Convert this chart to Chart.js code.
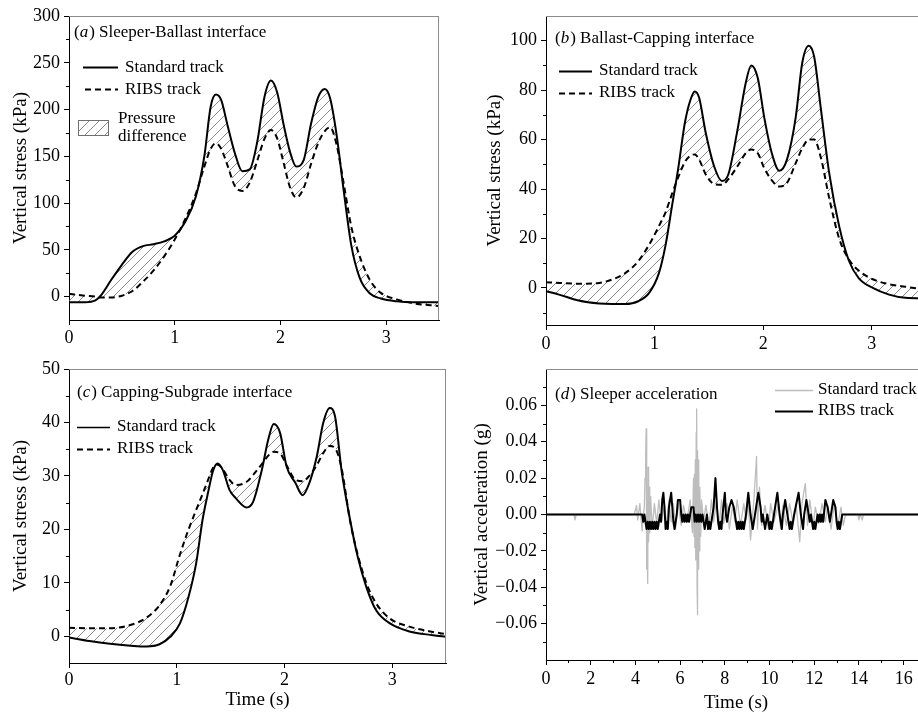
<!DOCTYPE html>
<html lang="en">
  <head>
    <meta charset="UTF-8" />
    <title>Vertical stress and sleeper acceleration</title>
    <script src="https://cdn.jsdelivr.net/npm/chart.js"></script>
    <style>
      html, body { margin: 0; padding: 0; background: #fff; overflow: hidden; }
      .page { position: relative; width: 918px; height: 718px; overflow: hidden; }
      .page canvas { position: absolute; }
    </style>
  </head>
  <body>
    <div class="page">
      <canvas id="chartA" width="459" height="345" style="left:0px;top:0px"></canvas>
      <canvas id="chartC" width="459" height="373" style="left:0px;top:345px"></canvas>
      <canvas id="chartD" width="467" height="373" style="left:459px;top:345px"></canvas>
      <!-- (b) last so its tick labels sit over the top edge of (d) -->
      <canvas id="chartB" width="467" height="365" style="left:459px;top:0px"></canvas>
    </div>

    <script>
      // (a) Sleeper-Ballast interface, kPa
      const timeA = [0, 0.15, 0.25, 0.3, 0.4, 0.5, 0.6, 0.7, 0.8, 0.9, 1.0, 1.1, 1.2, 1.28, 1.34, 1.39, 1.44, 1.5, 1.57, 1.64, 1.71, 1.78, 1.85, 1.91, 1.97, 2.03, 2.09, 2.15, 2.22, 2.29, 2.36, 2.42, 2.47, 2.53, 2.6, 2.67, 2.75, 2.85, 2.95, 3.1, 3.25, 3.5];
      const standardA = [-6, -6, -4, 1, 18, 34, 48, 54, 56, 59, 65, 80, 107, 150, 203, 216, 210, 183, 153, 134, 136, 165, 214, 231, 218, 184, 155, 139, 146, 185, 214, 222, 212, 174, 112, 55, 20, 3, -2, -5, -6, -6];
      const ribsA = [3, 1, 0, -1, -1, 1, 6, 16, 28, 43, 61, 83, 110, 139, 158, 164, 158, 140, 118, 113, 122, 145, 169, 178, 169, 143, 117, 106, 116, 142, 165, 177, 181, 163, 120, 75, 43, 17, 4, -3, -7, -10];

      // (b) Ballast-Capping interface, kPa
      const timeB = [0, 0.12, 0.3, 0.49, 0.61, 0.73, 0.85, 0.95, 1.04, 1.1, 1.16, 1.22, 1.28, 1.33, 1.37, 1.41, 1.47, 1.55, 1.62, 1.68, 1.76, 1.84, 1.89, 1.95, 2.01, 2.08, 2.15, 2.22, 2.3, 2.36, 2.42, 2.47, 2.53, 2.61, 2.7, 2.79, 2.88, 3.01, 3.16, 3.31, 3.5];
      const standardB = [-1.3, -2.7, -5.1, -6.3, -6.5, -6.5, -5.4, -2, 6, 17, 33, 49, 67, 76, 79.5, 77, 63, 49, 43.3, 46, 63, 83, 90, 85, 69, 54.5, 47.4, 52, 69, 91, 98, 93.5, 73, 46, 25, 11, 4, 0, -2.7, -4, -4.2];
      const ribsB = [2.3, 2.0, 1.7, 2, 3.4, 6, 10.8, 17.5, 25, 30.5, 38, 45, 51, 53.5, 54, 52, 46, 42, 41.7, 44, 49, 54.5, 56, 54.5, 48.5, 43.5, 41, 42.5, 50.5, 56.5, 60, 60, 53, 36, 20, 11.5, 7, 3.5, 1.5, 0.5, -0.8];

      // (c) Capping-Subgrade interface, kPa
      const timeC = [0, 0.19, 0.38, 0.6, 0.72, 0.84, 0.94, 1.03, 1.11, 1.18, 1.24, 1.29, 1.34, 1.38, 1.43, 1.49, 1.55, 1.65, 1.71, 1.79, 1.85, 1.9, 1.96, 2.02, 2.1, 2.17, 2.23, 2.3, 2.36, 2.42, 2.47, 2.53, 2.61, 2.68, 2.76, 2.85, 2.98, 3.16, 3.38, 3.5];
      const standardC = [-0.25, -0.9, -1.4, -1.8, -1.9, -1.5, -0.1, 2.4, 7.4, 13.6, 21.8, 26.8, 31.1, 32.3, 31, 27.4, 25.8, 24.1, 25.2, 31.1, 36.8, 39.7, 38, 31.75, 28.75, 26.4, 28.6, 33.6, 39.9, 42.7, 41.1, 31.1, 21.75, 14.9, 9.25, 4.9, 2.4, 0.9, 0.2, -0.1];
      const ribsC = [1.6, 1.5, 1.5, 2.3, 3.5, 5.8, 9.4, 15.3, 20, 23.6, 26.6, 29.2, 31.6, 32.1, 31.2, 29.25, 28.3, 28.9, 30.2, 32.2, 33.8, 34.5, 34.2, 32, 29.3, 29, 30, 32, 34.25, 35.6, 35.2, 31.5, 21.5, 15.3, 10, 6.2, 3.3, 1.8, 0.8, 0.4];

      // (d) Sleeper acceleration, g -- standard track (grey)
      const timeStdD = [
        0, 1.25, 1.3, 1.35, 3.95, 4.05, 4.1, 4.2, 4.3, 4.4,
        4.43, 4.46, 4.48, 4.5, 4.51, 4.53, 4.55, 4.57, 4.59, 4.61, 4.64, 4.68,
        4.75, 4.85, 4.95, 5.05, 5.15, 5.3, 5.4, 5.5, 5.6, 5.7, 5.8, 5.9, 6.05, 6.15, 6.3, 6.45, 6.55,
        6.6, 6.62, 6.64, 6.66, 6.68, 6.7, 6.72, 6.74, 6.76, 6.77, 6.79, 6.81, 6.83, 6.85, 6.88, 6.92, 6.96,
        7.05, 7.15, 7.3, 7.4, 7.5, 7.62, 7.75, 7.85, 7.95, 8.1, 8.2, 8.35, 8.45, 8.55, 8.7, 8.85, 8.95, 9.05, 9.15, 9.3, 9.42, 9.46, 9.55, 9.65, 9.8, 9.95,
        10.05, 10.2, 10.4, 10.5, 10.6, 10.75, 10.9, 11.05, 11.2, 11.35, 11.45, 11.6, 11.7, 11.8, 11.95, 12.05, 12.2, 12.35, 12.5, 12.6, 12.75, 12.9, 13.05, 13.2, 13.3, 13.4, 13.95, 14.0, 14.05, 14.15, 14.2, 17,
      ];
      const standardD = [
        0, 0, -0.003, 0, 0, 0.005, -0.003, 0.006, -0.009, 0.005,
        0.02, 0.032, 0.047, 0.03, -0.03, -0.02, -0.038, 0.026, -0.015, 0.015, -0.01, 0.01,
        -0.008, 0.006, -0.005, 0.008, -0.004, 0.005, -0.006, 0.008, -0.004, 0.006, -0.008, 0.007, -0.006, 0.005, -0.004, 0.008, -0.01,
        0.02, -0.012, 0.022, -0.018, 0.03, -0.025, 0.045, 0.058, -0.04, -0.055, 0.035, -0.03, 0.03, -0.02, 0.015, -0.012, 0.008,
        -0.004, 0.005, -0.006, 0.008, -0.004, 0.007, -0.006, 0.008, -0.005, 0.006, -0.008, 0.005, -0.004, 0.008, -0.006, 0.006, -0.003, 0.007, -0.014, 0.008, 0.032, -0.008, 0.015, -0.006, 0.005, -0.008,
        0.006, -0.004, 0.006, -0.008, 0.005, -0.006, 0.006, -0.005, 0.004, -0.015, 0.006, 0.017, -0.006, 0.008, -0.006, 0.004, -0.005, 0.006, -0.004, 0.005, -0.008, 0.006, -0.006, 0.004, -0.006, 0, 0, -0.003, 0, -0.003, 0, 0,
      ];

      // (d) RIBS track (black)
      const timeRibsD = [
        0, 4.3, 4.35, 4.4, 4.45, 4.5, 4.55, 4.6, 4.65, 4.7, 4.75, 4.8, 4.85, 4.9, 4.95, 5.0, 5.05, 5.1, 5.15, 5.2,
        5.25, 5.3, 5.35, 5.4, 5.45, 5.5, 5.55, 5.6, 5.65, 5.7, 5.75, 5.8, 5.85, 5.9, 6.0, 6.05, 6.1, 6.15, 6.2, 6.25,
        6.3, 6.35, 6.4, 6.45, 6.5, 6.6, 6.65, 6.7, 6.75, 6.8, 6.85, 6.9, 6.95, 7.0, 7.05, 7.1, 7.15, 7.2, 7.25, 7.3,
        7.35, 7.4, 7.5, 7.58, 7.65, 7.7, 7.75, 7.8, 7.85, 7.9, 8.0, 8.05, 8.1, 8.15, 8.2, 8.3, 8.4, 8.45, 8.5, 8.55,
        8.6, 8.65, 8.7, 8.75, 8.8, 8.85, 8.9, 8.95, 9.05, 9.15, 9.2, 9.25, 9.3, 9.35, 9.45, 9.5, 9.6, 9.65, 9.7, 9.75,
        9.8, 9.85, 9.9, 9.95, 10.0, 10.05, 10.1, 10.15, 10.2, 10.35, 10.45, 10.5, 10.55, 10.6, 10.7, 10.8, 10.85, 10.9, 10.95, 11.0,
        11.05, 11.1, 11.3, 11.4, 11.45, 11.5, 11.55, 11.65, 11.75, 11.8, 11.85, 11.9, 11.95, 12.0, 12.05, 12.1, 12.15, 12.2, 12.25, 12.3,
        12.35, 12.4, 12.5, 12.6, 12.65, 12.7, 12.75, 12.85, 12.95, 13.0, 13.05, 13.1, 13.15, 13.2, 13.25, 17,
      ];
      const ribsD = [
        0, 0, -0.004, 0, -0.004, -0.008, -0.004, -0.008, -0.004, -0.008, -0.004, -0.008, -0.004, -0.008, -0.004, -0.008, -0.004, 0, -0.004, 0.008,
        0.012, 0.004, -0.008, -0.004, -0.008, 0.004, 0.008, 0.012, 0.004, -0.004, -0.008, -0.004, 0, 0.008, 0.008, 0, -0.004, 0, -0.004, 0,
        -0.004, 0, -0.004, 0, 0.004, 0.004, -0.004, 0, -0.004, 0, -0.004, 0, -0.004, 0, -0.004, -0.008, -0.004, 0, -0.008, -0.004,
        -0.008, -0.004, 0.004, 0.02, 0.004, -0.004, -0.008, -0.004, -0.008, 0, 0.012, 0, -0.004, 0, 0.004, 0.008, 0.004, 0, -0.004, -0.008,
        -0.004, -0.008, -0.004, -0.008, -0.004, -0.008, -0.004, 0, 0.012, 0, -0.004, -0.008, -0.004, 0, 0.008, 0.012, 0.004, -0.004, 0, -0.004,
        -0.008, -0.004, 0, -0.004, -0.008, -0.004, -0.008, -0.004, 0, 0.012, 0, -0.004, -0.008, 0, 0.008, 0, -0.004, -0.008, -0.004, -0.008,
        -0.004, 0, 0.012, 0, -0.004, -0.008, 0, 0.008, 0, -0.004, 0, -0.004, -0.008, -0.004, -0.008, -0.004, 0, -0.004, 0, -0.004,
        0, -0.004, 0.008, 0.004, 0, -0.004, 0, 0.008, 0.004, -0.004, -0.008, -0.004, -0.008, -0.004, 0, 0,
      ];

      // axis tick labels
      const stressTicksX = [0, 1, 2, 3];
      const yTicksA = [0, 50, 100, 150, 200, 250, 300];
      const yTicksB = [0, 20, 40, 60, 80, 100];
      const yTicksC = [0, 10, 20, 30, 40, 50];
      const xTicksD = [0, 2, 4, 6, 8, 10, 12, 14, 16];
      const yTicksD = [-0.06, -0.04, -0.02, 0, 0.02, 0.04, 0.06];

      Chart.defaults.font.family = '"Liberation Serif", "Times New Roman", serif';
      Chart.defaults.color = "#000";
      Chart.defaults.animation = false;

      const SERIF = '"Liberation Serif", "Times New Roman", serif';

      function makeHatch(size) {
        const tile = document.createElement("canvas");
        tile.width = size;
        tile.height = size;
        const g = tile.getContext("2d");
        g.strokeStyle = "#6f6f6f";
        g.lineWidth = 0.8;
        g.beginPath();
        g.moveTo(0, size); g.lineTo(size, 0);
        g.moveTo(-size / 2, size / 2); g.lineTo(size / 2, -size / 2);
        g.moveTo(size / 2, size * 1.5); g.lineTo(size * 1.5, size / 2);
        g.stroke();
        return g.createPattern(tile, "repeat");
      }
      const hatch = makeHatch(10);

      // minor ticks halfway between majors, strictly inside the axis range
      function minorsOf(majors, min, max) {
        const step = majors[1] - majors[0];
        const out = [];
        [majors[0] - step].concat(majors).forEach((v) => {
          const m = +(v + step / 2).toFixed(6);
          if (m > min && m < max) out.push(m);
        });
        return out;
      }

      const toPoints = (xs, ys) => xs.map((x, i) => ({ x: x, y: ys[i] }));
      const minus = (s) => s.replace("-", "\u2212");
      const fmtInt = (v) => minus(String(v));
      const fmt2 = (v) => minus(Math.abs(v) < 1e-9 ? "0.00" : v.toFixed(2));

      // frame (top/right in grey) and short minor ticks
      const axisFrame = {
        id: "axisFrame",
        afterDraw(chart, args, opts) {
          const { ctx, chartArea: a } = chart;
          const xs = chart.scales.x, ys = chart.scales.y;
          ctx.save();
          ctx.lineWidth = 1;
          ctx.strokeStyle = "#8c8c8c";
          ctx.beginPath();
          ctx.moveTo(a.left, a.top + 0.5); ctx.lineTo(a.right, a.top + 0.5);
          ctx.moveTo(a.right - 0.5, a.top); ctx.lineTo(a.right - 0.5, a.bottom);
          ctx.stroke();
          ctx.strokeStyle = "#000";
          ctx.beginPath();
          (opts.xMinor || []).forEach((v) => {
            const px = Math.round(xs.getPixelForValue(v)) + 0.5;
            ctx.moveTo(px, a.bottom); ctx.lineTo(px, a.bottom + 3);
          });
          (opts.yMinor || []).forEach((v) => {
            const py = Math.round(ys.getPixelForValue(v)) + 0.5;
            ctx.moveTo(a.left, py); ctx.lineTo(a.left - 3, py);
          });
          ctx.stroke();
          ctx.restore();
        },
      };

      // panel caption like "(a) Sleeper-Ballast interface" plus the in-plot legend
      const panelText = {
        id: "panelText",
        afterDraw(chart, args, opts) {
          const ctx = chart.ctx;
          const t = opts.title;
          ctx.save();
          ctx.fillStyle = "#000";
          ctx.textBaseline = "middle";
          let x = t.x;
          ctx.font = "17px " + SERIF;
          ctx.fillText("(", x, t.y);
          x += ctx.measureText("(").width;
          ctx.font = "italic 17px " + SERIF;
          ctx.fillText(t.letter, x, t.y);
          x += ctx.measureText(t.letter).width + 1;
          ctx.font = "17px " + SERIF;
          ctx.fillText(") " + t.text, x, t.y);

          opts.items.forEach((it) => {
            const ds = chart.data.datasets[it.ds];
            if (it.type === "line") {
              ctx.save();
              ctx.strokeStyle = ds.borderColor;
              ctx.lineWidth = it.lw || ds.borderWidth;
              ctx.setLineDash(ds.borderDash || []);
              ctx.beginPath();
              ctx.moveTo(it.x1, it.y + 0.5);
              ctx.lineTo(it.x2, it.y + 0.5);
              ctx.stroke();
              ctx.restore();
              ctx.fillText(ds.label, it.tx, it.ty);
            } else {
              ctx.save();
              ctx.fillStyle = ds.backgroundColor;
              ctx.fillRect(it.x, it.y, it.w, it.h);
              ctx.strokeStyle = "#6f6f6f";
              ctx.lineWidth = 1;
              ctx.strokeRect(it.x + 0.5, it.y + 0.5, it.w, it.h);
              ctx.restore();
              it.lines.forEach((s, i) => ctx.fillText(s, it.tx, it.ty[i]));
            }
          });
          ctx.restore();
        },
      };

      function axis(opts) {
        const horiz = opts.horiz;
        return {
          type: "linear",
          min: opts.min,
          max: opts.max,
          afterBuildTicks: (s) => { s.ticks = opts.ticks.map((v) => ({ value: v })); },
          afterFit: (s) => { if (horiz) s.height = opts.size; else s.width = opts.size; },
          grid: { drawOnChartArea: false, tickLength: 5, tickColor: "#000", tickWidth: 1 },
          border: { display: true, color: "#000", width: 1 },
          ticks: { font: { size: 18 }, padding: opts.pad, maxRotation: 0, autoSkip: false, callback: opts.fmt },
          title: {
            display: !!opts.title,
            text: opts.title,
            font: { size: 19 },
            padding: opts.titlePad,
          },
        };
      }

      function stressChart(id, time, std, ribs, cfg) {
        return new Chart(document.getElementById(id), {
          type: "line",
          data: {
            datasets: [
              { label: "Standard track", data: toPoints(time, std), borderColor: "#000", borderWidth: 2, backgroundColor: hatch, fill: "+1" },
              { label: "RIBS track", data: toPoints(time, ribs), borderColor: "#000", borderWidth: 2, borderDash: [6, 4], fill: false },
            ],
          },
          options: {
            responsive: false,
            maintainAspectRatio: false,
            devicePixelRatio: 1,
            layout: { padding: cfg.padding },
            elements: { point: { radius: 0 }, line: { cubicInterpolationMode: "monotone" } },
            scales: { x: cfg.x, y: cfg.y },
            plugins: {
              legend: { display: false },
              tooltip: { enabled: false },
              filler: { drawTime: "beforeDatasetsDraw" },
              axisFrame: cfg.frame,
              panelText: cfg.text,
            },
          },
          plugins: [axisFrame, panelText],
        });
      }

      stressChart("chartA", timeA, standardA, ribsA, {
        padding: { top: 16, right: 20, bottom: 0, left: 0 },
        x: axis({ horiz: true, min: 0, max: 3.5, ticks: stressTicksX, size: 25, pad: 2, fmt: fmtInt }),
        y: axis({ min: -25, max: 300, ticks: yTicksA, size: 69, pad: 4, fmt: fmtInt, title: "Vertical stress (kPa)", titlePad: { top: 10, bottom: 0 } }),
        frame: { xMinor: [], yMinor: minorsOf(yTicksA, -25, 300) },
        text: {
          title: { x: 74, y: 33, letter: "a", text: "Sleeper-Ballast interface" },
          items: [
            { type: "line", ds: 0, x1: 83, x2: 118, y: 67, tx: 125, ty: 68 },
            { type: "line", ds: 1, x1: 85, x2: 118, y: 89, tx: 125, ty: 90 },
            { type: "box", ds: 0, x: 78, y: 120, w: 30, h: 15, tx: 118, ty: [119, 137], lines: ["Pressure", "difference"] },
          ],
        },
      });

      stressChart("chartB", timeB, standardB, ribsB, {
        padding: { top: 16, right: 0, bottom: 0, left: 0 },
        x: axis({ horiz: true, min: 0, max: 3.5, ticks: stressTicksX, size: 40, pad: 3, fmt: fmtInt }),
        y: axis({ min: -15, max: 110, ticks: yTicksB, size: 87, pad: 4, fmt: fmtInt, title: "Vertical stress (kPa)", titlePad: { top: 25, bottom: 0 } }),
        frame: { xMinor: [], yMinor: minorsOf(yTicksB, -15, 110) },
        text: {
          title: { x: 96, y: 39, letter: "b", text: "Ballast-Capping interface" },
          items: [
            { type: "line", ds: 0, x1: 100, x2: 133, y: 71, tx: 140, ty: 71 },
            { type: "line", ds: 1, x1: 100, x2: 133, y: 93, tx: 140, ty: 93 },
          ],
        },
      });

      stressChart("chartC", timeC, standardC, ribsC, {
        padding: { top: 24, right: 13, bottom: 0, left: 0 },
        x: axis({ horiz: true, min: 0, max: 3.5, ticks: stressTicksX, size: 55, pad: 1, fmt: fmtInt, title: "Time (s)", titlePad: { top: 0, bottom: 7 } }),
        y: axis({ min: -5, max: 50, ticks: yTicksC, size: 69, pad: 4, fmt: fmtInt, title: "Vertical stress (kPa)", titlePad: { top: 10, bottom: 0 } }),
        frame: { xMinor: [], yMinor: minorsOf(yTicksC, -5, 50) },
        text: {
          title: { x: 77, y: 48, letter: "c", text: "Capping-Subgrade interface" },
          items: [
            { type: "line", ds: 0, x1: 77, x2: 110, y: 82, tx: 117, ty: 82, lw: 1.3 },
            { type: "line", ds: 1, x1: 77, x2: 110, y: 104, tx: 117, ty: 104 },
          ],
        },
      });

      new Chart(document.getElementById("chartD"), {
        type: "line",
        data: {
          datasets: [
            { label: "Standard track", data: toPoints(timeStdD, standardD), borderColor: "#bdbdbd", borderWidth: 1.3, fill: false, order: 1 },
            { label: "RIBS track", data: toPoints(timeRibsD, ribsD), borderColor: "#000", borderWidth: 2, fill: false, order: 0 },
          ],
        },
        options: {
          responsive: false,
          maintainAspectRatio: false,
          devicePixelRatio: 1,
          layout: { padding: { top: 24, right: 0, bottom: 0, left: 0 } },
          elements: { point: { radius: 0 }, line: { tension: 0, borderJoinStyle: "round" } },
          scales: {
            x: axis({ horiz: true, min: 0, max: 17, ticks: xTicksD, size: 58, pad: 3, fmt: fmtInt, title: "Time (s)", titlePad: { top: 0, bottom: 4 } }),
            y: axis({ min: -0.08, max: 0.08, ticks: yTicksD, size: 87, pad: 4, fmt: fmt2, title: "Vertical acceleration (g)", titlePad: { top: 12, bottom: 0 } }),
          },
          plugins: {
            legend: { display: false },
            tooltip: { enabled: false },
            axisFrame: { xMinor: minorsOf(xTicksD, 0, 17), yMinor: minorsOf(yTicksD, -0.08, 0.08) },
            panelText: {
              title: { x: 96, y: 50, letter: "d", text: "Sleeper acceleration" },
              items: [
                { type: "line", ds: 0, x1: 316, x2: 354, y: 45, tx: 359, ty: 45 },
                { type: "line", ds: 1, x1: 316, x2: 354, y: 66, tx: 359, ty: 66 },
              ],
            },
          },
        },
        plugins: [axisFrame, panelText],
      });
    </script>
  </body>
</html>
